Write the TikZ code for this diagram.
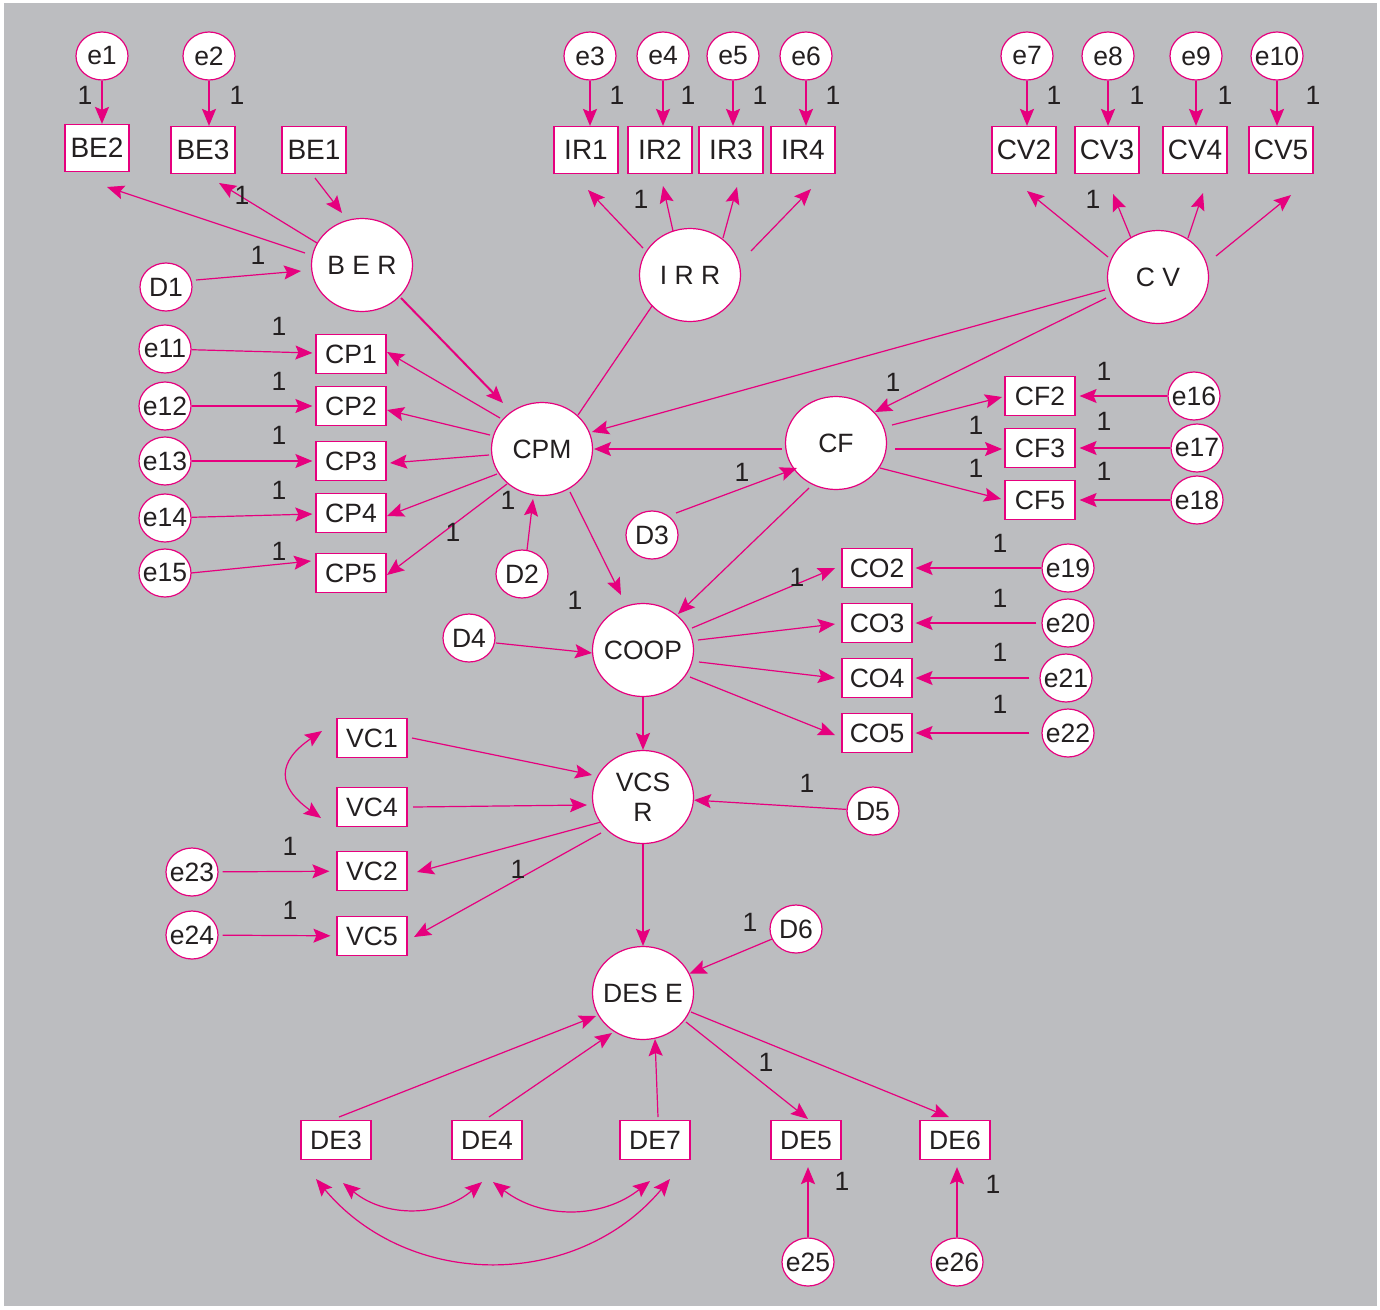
\documentclass[tikz,border=0pt]{standalone}
\usepackage{fontspec}
\setmainfont{Liberation Sans}
\usetikzlibrary{arrows.meta,shapes.geometric,calc}
\definecolor{amos}{HTML}{E6007E}
\definecolor{panel}{HTML}{BCBDC0}
\definecolor{ink}{HTML}{231F20}

\begin{document}
\begin{tikzpicture}[x=1pt,y=-1pt,font=\fontsize{26.5}{30}\selectfont,text=ink,
 err/.style={ellipse,draw=amos,fill=white,line width=1.2pt,minimum width=52pt,minimum height=48pt,inner sep=-8pt},
 latent/.style={ellipse,draw=amos,fill=white,line width=1.2pt,minimum width=101pt,minimum height=93pt,inner sep=-8pt,align=center},
 obs/.style={rectangle,draw=amos,fill=white,line width=1.2pt,minimum width=70pt,minimum height=39pt,inner sep=0pt},
 topobs/.style={obs,minimum width=64pt,minimum height=47pt,font=\fontsize{28}{30}\selectfont},
 link/.style={draw=amos,line width=1.2pt,-{Stealth[length=17pt,width=14pt,inset=3pt]}},
 heavy/.style={line width=2pt},
 twoway/.style={draw=amos,line width=1.2pt,{Stealth[length=17pt,width=14pt,inset=3pt]}-{Stealth[length=17pt,width=14pt,inset=3pt]}}]
\fill[white] (0,0) rectangle (1380,1309);
\path[use as bounding box] (0,0) rectangle (1380,1309);
\fill[panel] (4,3) rectangle (1377,1306);
% top row: error terms and their indicators
\foreach \n/\x in {e1/102,e2/209,e3/590,e4/663,e5/733,e6/806,e7/1027,e8/1108,e9/1196,e10/1277}
 \node[err] (\n) at (\x,56) {\n};
\node[topobs] (BE2) at (97,148) {BE2};
\foreach \n/\x in {BE3/203,BE1/314,IR1/586,IR2/660,IR3/731,IR4/803,CV2/1024,CV3/1107,CV4/1195,CV5/1281}
 \node[topobs] (\n) at (\x,150) {\n};
\node[latent] (BER) at (362,265) {B E R};
\node[latent] (IRR) at (690,275) {I R R};
\node[latent] (CV) at (1158,277) {C V};
\node[latent] (CPM) at (542,449) {CPM};
\node[latent] (CF) at (836,443) {CF};
\node[latent] (COOP) at (643,650) {COOP};
\node[latent] (VCSR) at (643,797) {VCS\\R};
\node[latent] (DESE) at (643,993) {DES E};
\node[err] (D1) at (166,287) {D1};
\node[err] (D2) at (522,574) {D2};
\node[err] (D3) at (652,535) {D3};
\node[err] (D4) at (469,638) {D4};
\node[err] (D5) at (873,811) {D5};
\node[err] (D6) at (796,929) {D6};
\foreach \e/\ey/\c/\cy in {e11/349/CP1/354,e12/406/CP2/406,e13/461/CP3/461,e14/518/CP4/513,e15/573/CP5/573} {
 \node[err] (\e) at (165,\ey) {\e};
 \node[obs] (\c) at (351,\cy) {\c};
}
\foreach \c/\cy/\e/\ex in {CF2/396/e16/1194,CF3/448/e17/1197,CF5/500/e18/1197} {
 \node[obs] (\c) at (1040,\cy) {\c};
 \node[err] (\e) at (\ex,\cy) {\e};
}
\foreach \c/\cy/\e/\ex in {CO2/568/e19/1068,CO3/623/e20/1068,CO4/678/e21/1066,CO5/733/e22/1068} {
 \node[obs] (\c) at (877,\cy) {\c};
 \node[err] (\e) at (\ex,\cy) {\e};
}
\foreach \c/\y in {VC1/738,VC4/807,VC2/871,VC5/936}
 \node[obs] (\c) at (372,\y) {\c};
\node[err] (e23) at (192,872) {e23};
\node[err] (e24) at (192,935) {e24};
\foreach \c/\x in {DE3/336,DE4/487,DE7/655,DE5/806,DE6/955}
 \node[obs] (\c) at (\x,1140) {\c};
\node[err] (e25) at (808,1262) {e25};
\node[err] (e26) at (957,1262) {e26};
% paths
\foreach \e/\b in {e1/BE2,e2/BE3,e3/IR1,e4/IR2,e5/IR3,e6/IR4,e7/CV2,e8/CV3,e9/CV4,e10/CV5}
 \draw[link,heavy] (\e) -- (\e |- \b.north);
\foreach \a/\ax/\ay/\b/\bx/\by in {BER/-57/-12/BE2/10/39,BER/-45/-22/BE3/16/33,BE1/1/28/BER/-20/-52,
 D1/30/-7/BER/-61/6,IRR/-47/-27/IR1/2/40,IRR/-17/-44/IR2/3/36,IRR/33/-37/IR3/6/37,IRR/61/-24/IR4/8/39,
 CV/-50/-20/CV2/3/41,CV/-27/-39/CV3/6/44,CV/30/-39/CV4/8/43,CV/58/-21/CV5/10/45,
 CV/-53/13/CPM/50/-17,CV/-52/21/CF/39/-31,CF/-54/6/CPM/52/0,D3/24/-22/CF/-39/25,
 CF/56/-18/CF2/-38/1,CF/59/6/CF3/-38/1,CF/44/25/CF5/-39/-1,
 CPM/-42/-31/CP1/36/-2,CPM/-52/-14/CP2/36/4,CPM/-53/6/CP3/39/2,CPM/-45/25/CP4/36/3,CPM/-35/35/CP5/36/2,
 e15/26/0/CP5/-40/-12,D2/5/-24/CPM/-9/50,CPM/28/43/COOP/-22/-55,CF/-27/45/COOP/35/-36,D4/27/5/COOP/-51/3,
 COOP/49/-22/CO2/-42/0,COOP/55/-10/CO3/-42/1,COOP/56/12/CO4/-42/0,COOP/47/27/CO5/-42/2,
 VC1/40/0/VCSR/-51/-22,VC4/41/0/VCSR/-56/8,VCSR/-42/25/VC2/45/1,VCSR/-42/36/VC5/42/1,
 DE3/3/-23/DESE/-47/23,DE4/2/-23/DESE/-31/40,DE7/3/-23/DESE/12/46,DESE/43/29/DE5/2/-21,DESE/48/19/DE6/-6/-23}
 \draw[link] ($(\a)+(\ax,\ay)$) -- ($(\b)+(\bx,\by)$);
\draw[link,heavy] ($(BER)+(39,33)$) -- ($(CPM)+(-39,-46)$);
\draw[amos,line width=1.2pt] ($(IRR)+(-38,31)$) -- ($(CPM)+(36,-34)$);
\foreach \e/\c in {e11/CP1,e12/CP2,e13/CP3,e14/CP4}
 \draw[link,shorten >=3pt] (\e) -- (\c);
\foreach \e/\c in {e16/CF2,e17/CF3,e18/CF5}
 \draw[link,shorten >=4pt] (\e) -- (\c);
\foreach \e/\c/\g in {e19/CO2/0,e20/CO3/5,e21/CO4/10,e22/CO5/12}
 \draw[link,shorten <=\g pt,shorten >=3pt] (\e) -- (\c);
\draw[link,shorten <=4pt,shorten >=7pt] (e23) -- (VC2);
\draw[link,shorten <=4pt,shorten >=6pt] (e24) -- (VC5);
\draw[link,heavy] (COOP) -- (VCSR);
\draw[link] (D5) -- (VCSR);
\draw[link] (VCSR) -- (DESE);
\draw[link] (D6) -- (DESE);
\draw[link,heavy,shorten >=7pt] (e25) -- (e25 |- DE5.south);
\draw[link,heavy,shorten >=7pt] (e26) -- (e26 |- DE6.south);
% covariances
\draw[twoway] ($(VC1)+(-50,-7)$) to[bend right=55,looseness=1.6] ($(VC4)+(-51,11)$);
\draw[twoway] ($(DE3)+(7,43)$) to[bend right=40] ($(DE4)+(-5,42)$);
\draw[twoway] ($(DE4)+(6,42)$) to[bend right=38] ($(DE7)+(-5,41)$);
\draw[twoway] ($(DE3)+(-20,39)$) to[bend right=50,looseness=1.05] ($(DE7)+(15,39)$);
% fixed loadings
\foreach \x/\y [count=\i] in {85/95,237/95,617/95,688/95,760/95,833/95,1054/95,1137/95,1225/95,1313/95,
 242/195,258/255,641/199,1093/199,279/326,279/381,279/435,279/490,279/551,
 508/500,453/532,575/600,893/382,742/472,976/425,976/468,797/577,
 1104/371,1104/421,1104/471,1000/543,1000/598,1000/652,1000/704,
 807/783,750/922,290/846,290/910,518/869,766/1062,842/1181,993/1184}
 \node (w\i) at (\x,\y) {1};
\end{tikzpicture}
\end{document}
